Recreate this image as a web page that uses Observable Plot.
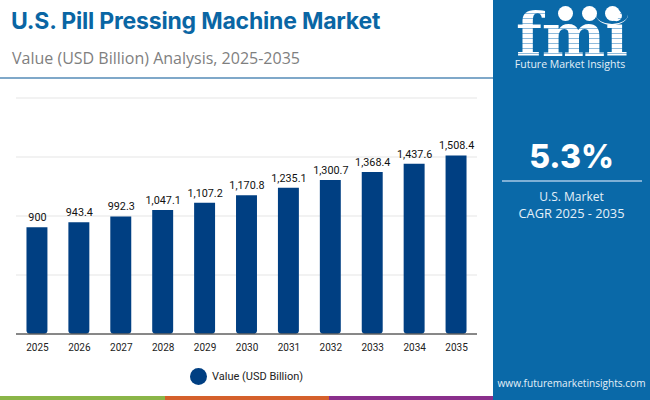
<!DOCTYPE html>
<html><head><meta charset="utf-8">
<script src="https://cdn.jsdelivr.net/npm/d3@7"></script>
<script src="https://cdn.jsdelivr.net/npm/@observablehq/plot@0.6"></script>
<style>
html,body{margin:0;padding:0;background:#fff;}
#page{position:relative;width:650px;height:400px;overflow:hidden;font-family:Roboto,sans-serif;}
#page>div{position:absolute;white-space:nowrap;}
#page svg{position:absolute;left:0;top:0;}
#title{left:11px;top:7px;font:700 23px/28px Inter,sans-serif;color:#0a66a4;letter-spacing:-0.2px;}
#subtitle{left:12px;top:46px;font:400 16px/24px "Open Sans",sans-serif;color:#7f7f7f;}
#hr{left:0;top:77px;width:493px;height:2px;background:#7fa8c9;}
#panel{left:493px;top:0;width:157px;height:400px;background:#0a69a8;}
#fmi{left:512px;top:9px;width:120px;text-align:center;font:700 60px/52px "DejaVu Serif",serif;letter-spacing:0;color:transparent;
 background:repeating-linear-gradient(180deg,#fff 0 4px,#8fbbdc 4px 5px);-webkit-background-clip:text;background-clip:text;}
.dot{width:15px;height:15px;border-radius:50%;background:#fff;}
#arc{left:596px;top:4px;width:32px;height:20px;border-bottom:1px solid #fff;border-radius:50%;}
#fmiName{left:490px;width:160px;top:61px;text-align:center;font:400 10.5px/6px "Open Sans",sans-serif;color:#e4f0f8;}
#cagr{left:493px;width:157px;top:136px;text-align:center;font:800 32px/42px Inter,sans-serif;color:#fff;}
#cagrRule{left:502px;top:180px;width:140px;height:1.5px;background:#7fb0d6;}
#cagrA{left:493px;width:157px;top:188px;text-align:center;font:400 12px/18px "Open Sans",sans-serif;color:#e4f0f8;}
#cagrB{left:493px;width:157px;top:204px;text-align:center;font:400 12.8px/18px "Open Sans",sans-serif;color:#e4f0f8;}
#url{left:493px;width:157px;top:374px;text-align:center;font:400 10.1px/18px "Open Sans",sans-serif;color:#e4f0f8;}
.band{top:396px;height:4px;}
#legDot{left:190px;top:368px;width:17px;height:17px;border-radius:50%;background:#003f82;}
#legTxt{left:212px;top:368px;font:400 11px/17px Roboto,sans-serif;color:#222;}
</style></head>
<body><div id="page">
<div id="title">U.S. Pill Pressing Machine Market</div>
<div id="subtitle">Value (USD Billion) Analysis, 2025-2035</div>
<div id="hr"></div>
<div id="panel"></div>
<div id="fmi">fmi</div>
<div class="dot" style="left:558px;top:6px"></div>
<div class="dot" style="left:582px;top:6px"></div>
<div class="dot" style="left:605px;top:6px"></div>
<div id="arc"></div>
<div id="fmiName">Future Market Insights</div>
<div id="cagr">5.3%</div>
<div id="cagrRule"></div>
<div id="cagrA">U.S. Market</div>
<div id="cagrB">CAGR 2025 - 2035</div>
<div id="url">www.futuremarketinsights.com</div>
<div class="band" style="left:0;width:165px;background:#8ab548"></div>
<div class="band" style="left:165px;width:164px;background:#d5602b"></div>
<div class="band" style="left:329px;width:164px;background:#8a2f8c"></div>
<div id="legDot"></div>
<div id="legTxt">Value (USD Billion)</div>
</div>
<script>
const years = [2025,2026,2027,2028,2029,2030,2031,2032,2033,2034,2035];
const values = [900,943.4,992.3,1047.1,1107.2,1170.8,1235.1,1300.7,1368.4,1437.6,1508.4];
const labels = ["900","943.4","992.3","1,047.1","1,107.2","1,170.8","1,235.1","1,300.7","1,368.4","1,437.6","1,508.4"];
const gridTicks = [500,1000,1500,2000];
const rows = years.map((year,i)=>({year,value:values[i],label:labels[i]}));
const chart = Plot.plot({
  width:650,height:400,
  marginLeft:16,marginRight:173,marginTop:97.5,marginBottom:66.5,
  style:{background:"transparent",fontFamily:"Roboto,sans-serif"},
  x:{type:"band",domain:years,paddingInner:0.5,paddingOuter:0.25,align:0.5,round:false,label:null},
  y:{domain:[0,2000],axis:null,label:null},
  marks:[
    Plot.ruleY(gridTicks,{stroke:"#e5e5e5",strokeWidth:1}),
    Plot.barY(rows,{x:"year",y:"value",fill:"#003f82",rx1y2:3,rx2y2:3,rx1y1:0,rx2y1:0}),
    Plot.ruleY([0],{stroke:"#111",strokeWidth:1}),
    Plot.text(rows,{x:"year",y:"value",text:"label",dy:-10,fontSize:10.8,fill:"#111"}),
    Plot.axisX({tickSize:0,tickPadding:9.5,fontSize:10,tickFormat:d=>String(d),color:"#222",label:null})
  ]
});
document.getElementById("page").prepend(chart);
</script>
</body></html>
